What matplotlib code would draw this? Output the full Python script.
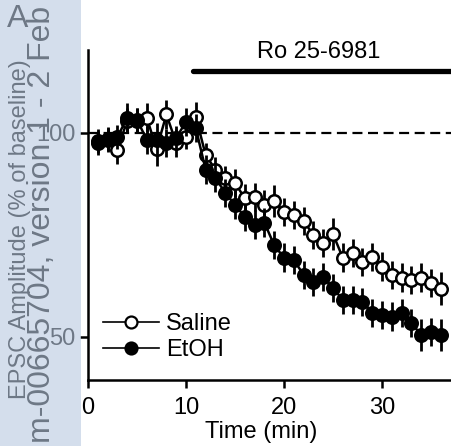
import matplotlib
matplotlib.use("Agg")
import matplotlib.pyplot as plt
from matplotlib.patches import Rectangle
from matplotlib.lines import Line2D

plt.rcParams['font.family'] = ['Liberation Sans', 'DejaVu Sans']

time_min = [1, 2, 3, 4, 5, 6, 7, 8, 9, 10, 11, 12, 13, 14, 15, 16, 17, 18,
            19, 20, 21, 22, 23, 24, 25, 26, 27, 28, 29, 30, 31, 32, 33, 34, 35, 36]
saline = [98, 98.5, 95.8, 103, 103, 103.7, 96, 104.5, 97.5, 99, 104, 94.6,
          91, 89, 87.7, 84, 84.3, 82.4, 83.3, 80.6, 79.9, 78.4, 75, 73,
          75.2, 69.4, 70.6, 68.4, 69.6, 67.2, 65.2, 64.5, 64, 64.5, 63.2, 61.8]
saline_err = [3, 3, 3.5, 3, 3, 3.5, 4, 3.5, 3.5, 3, 3.5, 3,
              3, 3, 3.5, 3.5, 3.5, 3.5, 4, 3.5, 3.5, 3.5, 3.5, 3.5,
              4, 3.5, 3.5, 3.5, 3.5, 3.5, 3.5, 3.5, 3.5, 3.5, 3.5, 4]
etoh = [97.5, 98.3, 99, 103.7, 103.2, 98.3, 98.3, 97.5, 98.8, 102.7, 101.2, 91,
        89, 85.3, 82.4, 79.4, 77.5, 78, 72.5, 69.4, 68.9, 65.2, 63.5, 64.7,
        62, 59.1, 59.1, 58.6, 55.9, 55.4, 55, 55.9, 53.4, 50.5, 51.2, 50.5]
etoh_err = [3, 3, 3, 3.5, 3, 3.5, 4, 3.5, 3, 3.5, 3.5, 3.5,
            3.5, 3.5, 3.5, 3.5, 3.5, 3.5, 3.5, 3.5, 3.5, 3.5, 3.5, 3.5,
            3.5, 3.5, 3.5, 3.5, 3.5, 3.5, 3.5, 3.5, 3.5, 4, 3.5, 4]
xticks = [0, 10, 20, 30]
yticks = [50, 100]
drug_label = "Ro 25-6981"
drug_span = [10.7, 37.04]

fig = plt.figure(figsize=(4.51, 4.46), dpi=100)
ax = fig.add_axes([88/451, 66/446, 363/451, 330/446])

ax.axhline(100, color='black', lw=1.6, ls=(0, (4.5, 2.5)), zorder=1)

ax.errorbar(time_min, saline, yerr=saline_err, fmt='-o', color='black',
            mfc='white', mec='black', mew=1.8, ms=9, lw=1.8, elinewidth=2.0,
            capsize=0, zorder=3)
ax.errorbar(time_min, etoh, yerr=etoh_err, fmt='-o', color='black',
            mfc='black', mec='black', mew=1.8, ms=9, lw=1.8, elinewidth=2.0,
            capsize=0, zorder=4)

ax.set_xlim(0, 37.04)
ax.set_ylim(39.46, 120.3)
ax.set_xticks(xticks)
ax.set_yticks(yticks)
ax.tick_params(labelsize=17, width=1.8, length=6)
ax.tick_params(axis='x', pad=6)
ax.tick_params(axis='y', pad=3)
for s in ['top', 'right']:
    ax.spines[s].set_visible(False)
for s in ['left', 'bottom']:
    ax.spines[s].set_linewidth(1.8)

ax.plot(drug_span, [115.2, 115.2], color='black', lw=3.8,
        solid_capstyle='round', clip_on=False, zorder=5)
ax.text(23.5, 119.9, drug_label, fontsize=17, ha='center', va='center')

ax.set_xlabel('Time (min)', fontsize=17)
ax.xaxis.set_label_coords(0.477, -0.124)
ax.set_ylabel('EPSC Amplitude (% of baseline)', fontsize=17, va='center')
ax.yaxis.set_label_coords(-0.187, 0.458)

handles = [Line2D([], [], color='black', lw=1.2, marker='o', ms=8.6,
                  mfc='white', mec='black', mew=1.6),
           Line2D([], [], color='black', lw=1.2, marker='o', ms=8.6,
                  mfc='black', mec='black', mew=1.6)]
ax.legend(handles, ['Saline', 'EtOH'], loc='center left',
          bbox_to_anchor=(0.04, 0.13), frameon=False, fontsize=17,
          handlelength=2.4, handletextpad=0.3, labelspacing=0.15,
          borderpad=0, borderaxespad=0)

# panel label and watermark strip
fig.text(7/451, 1 - 4/446, 'A', fontsize=23, ha='left', va='top')
fig.text(42/451, 0.497, 'm-00665704, version 1 - 2 Feb', fontsize=23,
         rotation=90, ha='center', va='center')
fig.patches.append(Rectangle((0, 0), 81/451, 1, transform=fig.transFigure,
                             facecolor=(0.72, 0.79, 0.88), alpha=0.6,
                             edgecolor='none', zorder=10))

fig.savefig('out.png', dpi=100)
